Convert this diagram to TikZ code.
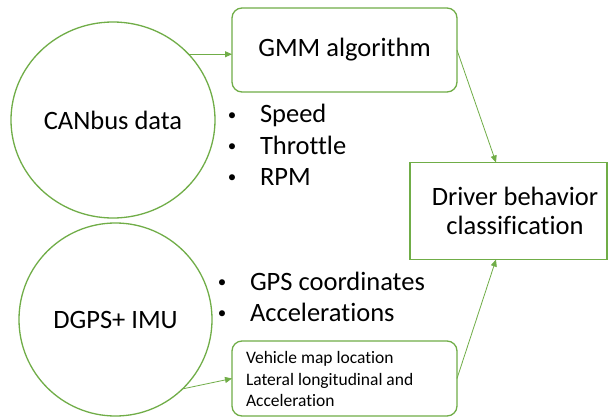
\documentclass[tikz,border=0pt]{standalone}
\usepackage{fontspec}
\setmainfont{Carlito}[Ligatures=NoCommon]
\usetikzlibrary{shapes.geometric,arrows.meta}
\definecolor{leaf}{HTML}{70AD47}
\tikzset{
  x=1pt, y=-1pt,
  every node/.style={inner sep=0pt, outer sep=0pt},
  big/.style={font=\fontsize{26.5}{29.5}\selectfont},
  small/.style={font=\fontsize{17.5}{21.5}\selectfont},
  source/.style={draw=leaf, line width=1.3pt, ellipse, big},
  roundbox/.style={draw=leaf, line width=1.3pt, rounded corners=10pt},
  sharpbox/.style={draw=leaf, line width=1.3pt},
  flow/.style={draw=leaf, line width=0.8pt, -{Triangle[length=7pt,width=6pt]}},
  item/.style={big, anchor=base west},
  dot/.style={font=\fontsize{17}{20}\selectfont, anchor=base, yshift=2.5pt}
}
\begin{document}
\begin{tikzpicture}
  \useasboundingbox[fill=white] (0,0) rectangle (608,418);

  % data sources
  \node[source, minimum width=204, minimum height=196] (can) at (113,120) {CANbus data};
  \node[source, minimum width=193, minimum height=193] (gps) at (115.5,319.5) {DGPS+ IMU};

  % processing boxes
  \node[roundbox, big, minimum width=225, minimum height=84] (gmm) at (344.5,50) {GMM algorithm};
  \node[roundbox, minimum width=225, minimum height=75] (vml) at (344.5,378.5) {};
  \node[small, anchor=base west] (vml1) at (246,363) {Vehicle map location};
  \node[small, anchor=base west] (vml2) at (246,385) {Lateral longitudinal and};
  \node[small, anchor=base west] (vml3) at (246,406) {Acceleration};

  % result
  \node[sharpbox, minimum width=197, minimum height=97] (drv) at (508.5,211) {};
  \node[big, anchor=base] (drv1) at (515,205) {Driver behavior};
  \node[big, anchor=base] (drv2) at (515,234) {classification};

  % CANbus signals
  \node[dot] (b1) at (232,122.5) {\textbullet};
  \node[item] (speed) at (260,122.5) {Speed};
  \node[dot] (b2) at (232,154) {\textbullet};
  \node[item] (thr) at (260,154) {Throttle};
  \node[dot] (b3) at (232,185) {\textbullet};
  \node[item] (rpm) at (260,185) {RPM};

  % DGPS/IMU signals
  \node[dot] (b4) at (222,290) {\textbullet};
  \node[item] (gpsc) at (250,290) {GPS coordinates};
  \node[dot] (b5) at (222,321) {\textbullet};
  \node[item] (acc) at (250,321) {Accelerations};

  % connectors
  \coordinate (drvtop) at ([xshift=-12.5pt]drv.north);
  \coordinate (drvbot) at ([xshift=-12.5pt]drv.south);
  \draw[flow] (can.41) -- (can.41 -| gmm.west);
  \draw[flow] (gmm.east) -- (drvtop);
  \draw[flow] (gps.-46) -- (vml.west);
  \draw[flow] (vml.east) -- (drvbot);
\end{tikzpicture}
\end{document}
